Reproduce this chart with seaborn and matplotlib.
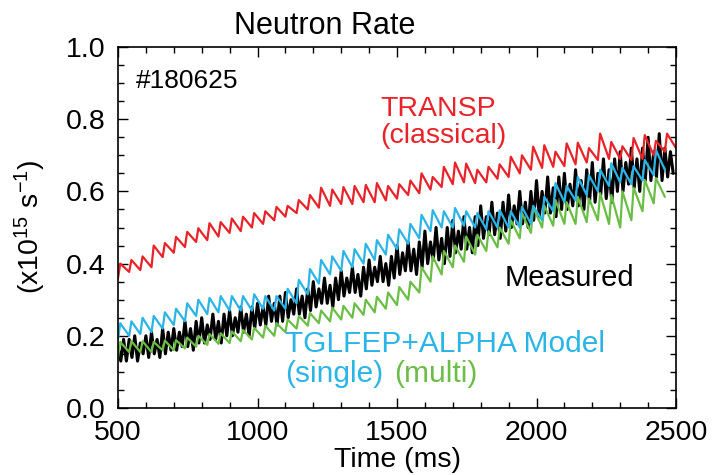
import numpy as np
import pandas as pd
import matplotlib
matplotlib.use("Agg")
import matplotlib.pyplot as plt
import seaborn as sns
from matplotlib.ticker import MultipleLocator

# ---------------- data ----------------
# sawtooth series: trough values every 40 ms starting at 500 ms,
# peak values 8 ms after each trough
red_troughs = [0.36, 0.377, 0.382, 0.39, 0.418, 0.43, 0.446, 0.46, 0.465, 0.475,
               0.485, 0.49, 0.50, 0.51, 0.52, 0.53, 0.54, 0.55, 0.555, 0.56,
               0.565, 0.565, 0.57, 0.57, 0.575, 0.58, 0.59, 0.595, 0.605, 0.612,
               0.62, 0.625, 0.623, 0.625, 0.635, 0.64, 0.65, 0.66, 0.665, 0.668,
               0.67, 0.675, 0.68, 0.687, 0.69, 0.69, 0.687, 0.69, 0.70, 0.71,
               0.72]
red_peaks = [0.40, 0.41, 0.42, 0.45, 0.457, 0.474, 0.488, 0.498, 0.512, 0.515,
             0.525, 0.53, 0.54, 0.545, 0.557, 0.56, 0.576, 0.59, 0.61, 0.605,
             0.612, 0.615, 0.618, 0.623, 0.615, 0.62, 0.63, 0.65, 0.64, 0.668,
             0.68, 0.677, 0.66, 0.668, 0.675, 0.696, 0.70, 0.724, 0.728, 0.71,
             0.733, 0.735, 0.72, 0.76, 0.737, 0.725, 0.748, 0.756, 0.74, 0.76]

single_troughs = [0.19, 0.20, 0.205, 0.21, 0.22, 0.23, 0.24, 0.255, 0.26, 0.265,
                  0.27, 0.27, 0.27, 0.275, 0.27, 0.275, 0.29, 0.315, 0.345, 0.37,
                  0.38, 0.39, 0.40, 0.41, 0.425, 0.44, 0.455, 0.47, 0.49, 0.50,
                  0.50, 0.505, 0.50, 0.495, 0.50, 0.50, 0.50, 0.51, 0.52, 0.545,
                  0.57, 0.575, 0.59, 0.60, 0.615, 0.625, 0.62, 0.63, 0.645, 0.66]
single_peaks = [0.235, 0.24, 0.25, 0.255, 0.265, 0.275, 0.29, 0.30, 0.305, 0.31,
                0.31, 0.31, 0.315, 0.31, 0.31, 0.33, 0.355, 0.385, 0.41, 0.42,
                0.435, 0.44, 0.455, 0.465, 0.48, 0.495, 0.51, 0.535, 0.548, 0.545,
                0.554, 0.545, 0.54, 0.545, 0.548, 0.545, 0.557, 0.56, 0.585, 0.623,
                0.615, 0.64, 0.645, 0.66, 0.678, 0.665, 0.67, 0.687, 0.715]

multi_troughs = [0.14, 0.155, 0.155, 0.155, 0.16, 0.16, 0.165, 0.17, 0.175, 0.178,
                 0.18, 0.185, 0.19, 0.195, 0.20, 0.21, 0.22, 0.228, 0.235, 0.24,
                 0.245, 0.25, 0.258, 0.265, 0.275, 0.285, 0.30, 0.32, 0.35, 0.37,
                 0.39, 0.405, 0.425, 0.435, 0.445, 0.455, 0.47, 0.485, 0.50, 0.505,
                 0.51, 0.51, 0.515, 0.52, 0.51, 0.50, 0.52, 0.545, 0.567, 0.585]
multi_peaks = [0.183, 0.185, 0.185, 0.183, 0.187, 0.188, 0.195, 0.20, 0.205, 0.207,
               0.212, 0.216, 0.222, 0.228, 0.235, 0.245, 0.255, 0.263, 0.27, 0.278,
               0.283, 0.29, 0.30, 0.308, 0.32, 0.335, 0.35, 0.39, 0.42, 0.435,
               0.45, 0.475, 0.48, 0.49, 0.50, 0.52, 0.54, 0.557, 0.56, 0.576,
               0.57, 0.585, 0.58, 0.595, 0.59, 0.60, 0.61, 0.632, 0.637]

# measured neutron rate, every 10 ms from 500 ms
measured = [
    0.17, 0.13, 0.19, 0.13, 0.19, 0.14, 0.20, 0.13, 0.18, 0.15,
    0.20, 0.14, 0.21, 0.15, 0.19, 0.14, 0.22, 0.15, 0.21, 0.16,
    0.22, 0.16, 0.21, 0.17, 0.24, 0.17, 0.22, 0.16, 0.24, 0.18,
    0.25, 0.18, 0.23, 0.19, 0.26, 0.19, 0.24, 0.18, 0.26, 0.20,
    0.27, 0.20, 0.25, 0.21, 0.28, 0.21, 0.26, 0.20, 0.28, 0.22,
    0.29, 0.23, 0.28, 0.23, 0.31, 0.24, 0.29, 0.23, 0.31, 0.24,
    0.32, 0.25, 0.30, 0.26, 0.33, 0.26, 0.31, 0.25, 0.33, 0.27,
    0.35, 0.28, 0.33, 0.29, 0.36, 0.29, 0.34, 0.28, 0.36, 0.30,
    0.38, 0.31, 0.36, 0.32, 0.39, 0.32, 0.37, 0.31, 0.39, 0.33,
    0.41, 0.34, 0.39, 0.35, 0.42, 0.35, 0.40, 0.34, 0.42, 0.36,
    0.45, 0.37, 0.43, 0.38, 0.46, 0.38, 0.44, 0.37, 0.46, 0.39,
    0.49, 0.40, 0.46, 0.41, 0.50, 0.41, 0.47, 0.40, 0.50, 0.42,
    0.52, 0.43, 0.49, 0.44, 0.53, 0.44, 0.50, 0.43, 0.53, 0.45,
    0.56, 0.47, 0.53, 0.48, 0.57, 0.48, 0.54, 0.47, 0.57, 0.49,
    0.59, 0.50, 0.56, 0.51, 0.60, 0.51, 0.57, 0.50, 0.60, 0.52,
    0.63, 0.53, 0.60, 0.54, 0.64, 0.54, 0.61, 0.53, 0.64, 0.55,
    0.65, 0.55, 0.62, 0.56, 0.66, 0.56, 0.63, 0.55, 0.66, 0.57,
    0.68, 0.57, 0.65, 0.59, 0.69, 0.58, 0.66, 0.57, 0.69, 0.60,
    0.71, 0.60, 0.68, 0.62, 0.72, 0.61, 0.69, 0.60, 0.72, 0.63,
    0.75, 0.63, 0.71, 0.64, 0.76, 0.63, 0.72, 0.64, 0.71, 0.65,
]

x_ticks = [500, 1000, 1500, 2000, 2500]
y_ticks = [0.0, 0.2, 0.4, 0.6, 0.8, 1.0]
y_tick_labels = ["0.0", "0.2", "0.4", "0.6", "0.8", "1.0"]

T0, PERIOD, RISE = 500, 40, 8


def sawtooth(troughs, peaks):
    t, v = [], []
    for k, tr in enumerate(troughs):
        t.append(T0 + PERIOD * k)
        v.append(tr)
        if k < len(peaks):
            t.append(T0 + PERIOD * k + RISE)
            v.append(peaks[k])
    return pd.DataFrame({"time": t, "rate": v})


df_red = sawtooth(red_troughs, red_peaks)
df_single = sawtooth(single_troughs, single_peaks)
df_multi = sawtooth(multi_troughs, multi_peaks)
df_meas = pd.DataFrame({"time": np.arange(500, 500 + 10 * len(measured), 10),
                        "rate": measured})

# ---------------- style ----------------
sns.set_style("ticks")
plt.rcParams["font.family"] = ["Liberation Sans", "DejaVu Sans"]
plt.rcParams["mathtext.default"] = "regular"
plt.rcParams["text.color"] = "black"
plt.rcParams["axes.labelcolor"] = "black"
plt.rcParams["xtick.color"] = "black"
plt.rcParams["ytick.color"] = "black"

RED = "#E8232A"
CYAN = "#2BB5E6"
GREEN = "#6ABD45"

fig = plt.figure(figsize=(7.15, 4.75), dpi=100)
ax = fig.add_axes([118 / 715, 1 - 408 / 475, (676 - 118) / 715, (408 - 47) / 475])

sns.lineplot(data=df_meas, x="time", y="rate", ax=ax, color="black",
             linewidth=2.2, sort=False, estimator=None)
sns.lineplot(data=df_multi, x="time", y="rate", ax=ax, color=GREEN,
             linewidth=1.6, sort=False, estimator=None)
sns.lineplot(data=df_single, x="time", y="rate", ax=ax, color=CYAN,
             linewidth=1.6, sort=False, estimator=None)
sns.lineplot(data=df_red, x="time", y="rate", ax=ax, color=RED,
             linewidth=1.6, sort=False, estimator=None)

ax.set_xlim(500, 2500)
ax.set_ylim(0, 1)
ax.set_xticks(x_ticks)
ax.set_yticks(y_ticks)
ax.set_yticklabels(y_tick_labels)
ax.xaxis.set_minor_locator(MultipleLocator(100))
ax.yaxis.set_minor_locator(MultipleLocator(0.05))
ax.tick_params(which="both", direction="in", top=True, right=True,
               width=1.0, colors="black")
ax.tick_params(which="major", length=7, labelsize=20.5)
ax.tick_params(axis="y", which="major", pad=9)
ax.tick_params(axis="x", which="major", pad=9)
ax.tick_params(which="minor", length=4)
for s in ax.spines.values():
    s.set_linewidth(1.2)
    s.set_color("black")
ax.set_xlabel("")
ax.set_ylabel("")

# labels
fig.text(325 / 715, 1 - 34 / 475, "Neutron Rate", ha="center", va="baseline",
         fontsize=22, color="black")
fig.text(397 / 715, 1 - 467 / 475, "Time (ms)", ha="center", va="baseline",
         fontsize=20.5, color="black")
fig.text(30 / 715, 1 - 227 / 475, "(x10$^{15}$ s$^{-1}$)", rotation=90,
         ha="center", va="center", fontsize=20.5, color="black")

# annotations
ax.text(565, 0.886, "#180625", fontsize=19, color="black", va="baseline")
ax.text(1439, 0.809, "TRANSP", fontsize=20.5, color=RED, va="baseline")
ax.text(1439, 0.734, "(classical)", fontsize=20.5, color=RED, va="baseline")
ax.text(1887, 0.338, "Measured", fontsize=21, color="black", va="baseline")
ax.text(1100, 0.156, "TGLFEP+ALPHA Model", fontsize=21.5, color=CYAN, va="baseline")
ax.text(1100, 0.071, "(single)", fontsize=21.5, color=CYAN, va="baseline")
ax.text(1488, 0.071, "(multi)", fontsize=21.5, color=GREEN, va="baseline")

fig.savefig("out.png", dpi=100)
